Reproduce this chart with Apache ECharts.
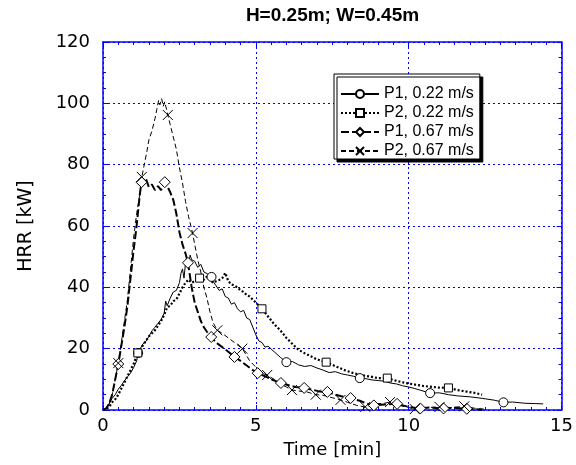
<!DOCTYPE html>
<html><head><meta charset="utf-8">
<script src="https://cdn.jsdelivr.net/npm/echarts@6/dist/echarts.min.js"></script>
<style>html,body{margin:0;padding:0;background:#fff}#c{width:576px;height:465px}</style>
</head><body><div id="c"></div>
<script>
// ---- data: [time (min), HRR (kW)] ----
const seriesNames = ['P1, 0.22 m/s', 'P2, 0.22 m/s', 'P1, 0.67 m/s', 'P2, 0.67 m/s'];
const xTicks = [0, 5, 10, 15];
const yTicks = [0, 20, 40, 60, 80, 100, 120];

const P1_022 = [[0,0],[0.1,0.5],[0.2,2],[0.3,3.8],[0.4,5],[0.5,6.8],[0.6,8],[0.7,9.5],[0.8,10.8],[0.9,12],[1.0,13.8],[1.1,16],[1.15,18.6],[1.2,19.2],[1.3,21.5],[1.4,22.3],[1.5,24],[1.6,25.8],[1.7,27],[1.8,28.3],[1.9,29.5],[2.0,31.5],[2.05,35.5],[2.1,34],[2.2,36.5],[2.3,38.5],[2.4,39],[2.5,41.5],[2.55,44.5],[2.6,46],[2.65,43],[2.7,48],[2.75,49.5],[2.8,47],[2.85,50.5],[2.9,49],[3.0,48.5],[3.1,46.5],[3.2,47.5],[3.3,45],[3.4,44.5],[3.55,43.4],[3.6,42],[3.7,40.5],[3.8,39],[3.9,39.5],[4.0,37],[4.1,36.5],[4.2,34.5],[4.3,35],[4.4,33],[4.5,32],[4.6,32.5],[4.7,30],[4.8,29.5],[4.9,27],[5.0,24.5],[5.1,22.5],[5.2,22],[5.3,20.5],[5.4,20.8],[5.6,19],[5.8,17.2],[6.0,15.6],[6.2,15.8],[6.4,14.7],[6.6,14.2],[6.8,14.5],[7.0,13.7],[7.2,13],[7.4,12.2],[7.6,12.5],[7.8,11.8],[8.0,11.4],[8.2,11],[8.4,10.4],[8.6,10.2],[8.8,9.8],[9.0,9.6],[9.2,9.4],[9.4,8.8],[9.6,8.5],[9.8,7.9],[10.0,7.5],[10.2,7],[10.4,6.4],[10.7,5.5],[11.0,5.6],[11.3,5],[11.6,4.6],[12.0,4.3],[12.4,3.8],[12.8,3.2],[13.1,2.5],[13.4,2.6],[13.8,2.2],[14.1,2.1],[14.4,2]];
const P1_022_marks = [1.15,3.55,6.0,8.4,10.7,13.1];

const P2_022 = [[0,0],[0.1,0.3],[0.2,1],[0.3,2.5],[0.4,3.5],[0.5,5],[0.6,7],[0.7,9],[0.8,11],[0.9,13],[1.0,15],[1.14,18.6],[1.2,19],[1.3,21],[1.4,22.5],[1.5,24],[1.6,25],[1.7,26],[1.8,27.5],[1.9,29],[2.0,31],[2.1,33.5],[2.2,34],[2.3,35.5],[2.4,36],[2.5,38],[2.6,40],[2.7,41.5],[2.8,42.5],[2.9,41.5],[3.0,42],[3.16,43],[3.3,42.5],[3.4,43.5],[3.5,42.5],[3.6,41.5],[3.7,42],[3.8,42.4],[3.9,43],[4.0,44.7],[4.1,42],[4.2,41],[4.3,40.5],[4.4,40],[4.5,39],[4.6,38.5],[4.7,37.5],[4.8,37],[4.9,36],[5.0,35],[5.2,33],[5.4,30.5],[5.6,28],[5.8,26],[6.0,23.5],[6.2,21.5],[6.4,19.6],[6.6,18.5],[6.8,17.5],[7.0,16.5],[7.3,15.6],[7.6,14.3],[7.9,13],[8.2,12],[8.5,11.3],[8.8,10.8],[9.0,10.4],[9.3,10.4],[9.6,9.5],[9.9,8.8],[10.2,8.3],[10.5,7.8],[10.8,7.5],[11.0,7.3],[11.3,7.2],[11.6,6.5],[11.9,6],[12.2,5.5],[12.4,5]];
const P2_022_marks = [1.14,3.16,5.2,7.3,9.3,11.3];

const P1_067 = [[0,0],[0.1,0.5],[0.2,2],[0.3,5],[0.4,10],[0.5,15],[0.6,21],[0.7,27],[0.8,34],[0.9,43],[1.0,52],[1.1,60],[1.2,70],[1.26,74.3],[1.35,74],[1.4,75.5],[1.5,72.7],[1.6,73.5],[1.7,71.7],[1.8,73],[1.9,71.7],[2.02,74.3],[2.1,73],[2.2,71],[2.3,68.5],[2.4,64],[2.5,58],[2.6,54],[2.7,51],[2.78,48],[2.9,40],[3.0,35],[3.1,32],[3.2,29],[3.3,27],[3.4,25.5],[3.54,23.8],[3.7,22],[3.9,20.5],[4.1,19],[4.3,17.3],[4.5,16],[4.7,14.5],[4.9,13],[5.06,12],[5.3,11],[5.5,10],[5.82,8.8],[6.1,8],[6.3,7.5],[6.58,7.2],[6.9,6.5],[7.1,6],[7.34,5.9],[7.6,5],[7.8,4.5],[8.1,3.9],[8.4,3],[8.6,2.2],[8.86,1.5],[9.2,1.8],[9.62,2],[10.0,1],[10.38,0.5],[10.7,0.8],[11.14,0.5],[11.5,0.7],[11.9,0.4],[12.2,0.3],[12.4,0]];
const P1_067_marks = [0.5,1.26,2.02,2.78,3.54,4.3,5.06,5.82,6.58,7.34,8.1,8.86,9.62,10.38,11.14,11.9];

const P2_067 = [[0,0],[0.1,0.5],[0.2,2],[0.3,5],[0.4,10],[0.5,15.3],[0.6,22],[0.7,29],[0.8,36],[0.9,46],[1.0,56],[1.1,64],[1.2,70],[1.27,76],[1.35,80],[1.43,84],[1.5,88],[1.6,91],[1.7,95],[1.76,98],[1.82,101],[1.86,99.5],[1.92,101.5],[1.97,99],[2.02,100.5],[2.12,96.2],[2.2,93],[2.3,89],[2.4,85],[2.5,79],[2.6,74],[2.7,68],[2.8,63],[2.93,57.7],[3.0,54],[3.1,49],[3.2,45],[3.3,40],[3.4,36.5],[3.5,32],[3.6,28.5],[3.74,26],[3.9,25],[4.1,23.5],[4.3,22],[4.56,20],[4.8,16],[5.0,14],[5.2,12],[5.37,11.4],[5.6,10],[5.8,8.5],[6.0,7.5],[6.18,6.5],[6.4,6.2],[6.7,5.8],[6.96,5],[7.2,4.8],[7.5,4],[7.77,3.3],[8.0,2.5],[8.3,1.5],[8.58,1],[8.9,2],[9.2,2.2],[9.39,2.6],[9.7,1.5],[10.0,0.8],[10.2,0.3],[10.6,0.8],[11.01,1],[11.4,0.8],[11.82,1.2],[12.2,0.5],[12.5,0.3]];
const P2_067_marks = [0.5,1.27,2.12,2.93,3.74,4.56,5.37,6.18,6.96,7.77,8.58,9.39,10.2,11.01,11.82];

// ---- chart ----
const BLUE = '#0000ff';
const tickFont = 'DejaVu Sans';
const chart = echarts.init(document.getElementById('c'), null, {renderer: 'canvas'});

function mkSeries(name, data, marks, symbol, size, lineStyle) {
  return {
    name: name, type: 'line', data: data, xAxisIndex: 0, yAxisIndex: 0,
    symbol: symbol, showAllSymbol: true,
    symbolSize: function (v) { return marks.indexOf(v[0]) >= 0 ? size : 0; },
    lineStyle: Object.assign({color: '#000'}, lineStyle),
    itemStyle: {color: '#fff', borderColor: '#000', borderWidth: 1},
    emphasis: {disabled: true},
    z: 3
  };
}

const axisCommon = {
  type: 'value',
  axisLine: {show: true, onZero: false, lineStyle: {color: BLUE, width: 1.5}},
  axisTick: {show: true, inside: true, length: 5, lineStyle: {color: BLUE, width: 1}},
  minorTick: {show: true, length: 3, lineStyle: {color: BLUE, width: 1}},
};

const option = {
  animation: false,
  backgroundColor: '#fff',
  title: {
    text: 'H=0.25m; W=0.45m', left: 332.5, top: 6, padding: 0, textAlign: 'center',
    textStyle: {fontFamily: 'Liberation Sans', fontWeight: 'bold', fontSize: 19, color: '#000'}
  },
  grid: {left: 103, right: 12, top: 42, bottom: 55, containLabel: false},
  legend: {
    orient: 'vertical', left: 334, top: 74,
    padding: [12, 6, 0, 6], itemGap: 3, itemWidth: 38, itemHeight: 10,
    backgroundColor: '#fff', borderColor: '#000', borderWidth: 1,
    shadowColor: '#000', shadowBlur: 0, shadowOffsetX: 3, shadowOffsetY: 3,
    textStyle: {fontFamily: 'Liberation Sans', fontSize: 16, color: '#000'},
    data: seriesNames, selectedMode: false
  },
  xAxis: [
    Object.assign({}, axisCommon, {
      position: 'bottom', min: xTicks[0], max: xTicks[xTicks.length - 1], interval: 5,
      minorTick: Object.assign({}, axisCommon.minorTick, {splitNumber: 10}),
      splitLine: {show: true, lineStyle: {color: BLUE, width: 1, type: [2, 3]}},
      axisLabel: {fontFamily: tickFont, fontSize: 18, color: '#000', margin: 7},
      name: 'Time [min]', nameLocation: 'middle', nameGap: 31,
      nameTextStyle: {fontFamily: tickFont, fontSize: 18, color: '#000'}
    }),
    Object.assign({}, axisCommon, {
      position: 'top', min: xTicks[0], max: xTicks[xTicks.length - 1], interval: 5,
      minorTick: Object.assign({}, axisCommon.minorTick, {splitNumber: 10}),
      splitLine: {show: false}, axisLabel: {show: false}
    })
  ],
  yAxis: [
    Object.assign({}, axisCommon, {
      position: 'left', min: yTicks[0], max: yTicks[yTicks.length - 1], interval: 20,
      minorTick: Object.assign({}, axisCommon.minorTick, {splitNumber: 4}),
      splitLine: {show: true, lineStyle: {color: BLUE, width: 1, type: [2, 3]}},
      axisLabel: {fontFamily: tickFont, fontSize: 18, color: '#000', margin: 13},
      name: 'HRR [kW]', nameLocation: 'middle', nameGap: 67, nameRotate: 90,
      nameTextStyle: {fontFamily: tickFont, fontSize: 19, color: '#000'}
    }),
    Object.assign({}, axisCommon, {
      position: 'right', min: yTicks[0], max: yTicks[yTicks.length - 1], interval: 20,
      minorTick: Object.assign({}, axisCommon.minorTick, {splitNumber: 4}),
      splitLine: {show: false}, axisLabel: {show: false}
    })
  ],
  series: [
    mkSeries(seriesNames[0], P1_022, P1_022_marks, 'circle', 9, {width: 1, type: 'solid'}),
    mkSeries(seriesNames[1], P2_022, P2_022_marks, 'rect', 8, {width: 2.2, type: [2, 2]}),
    mkSeries(seriesNames[2], P1_067, P1_067_marks, 'diamond', 11, {width: 2, type: [8, 3]}),
    mkSeries(seriesNames[3], P2_067, P2_067_marks, 'path://M0,0L10,10M10,0L0,10', 10, {width: 1, type: [5, 3]})
  ]
};
chart.setOption(option);
</script>
</body></html>
